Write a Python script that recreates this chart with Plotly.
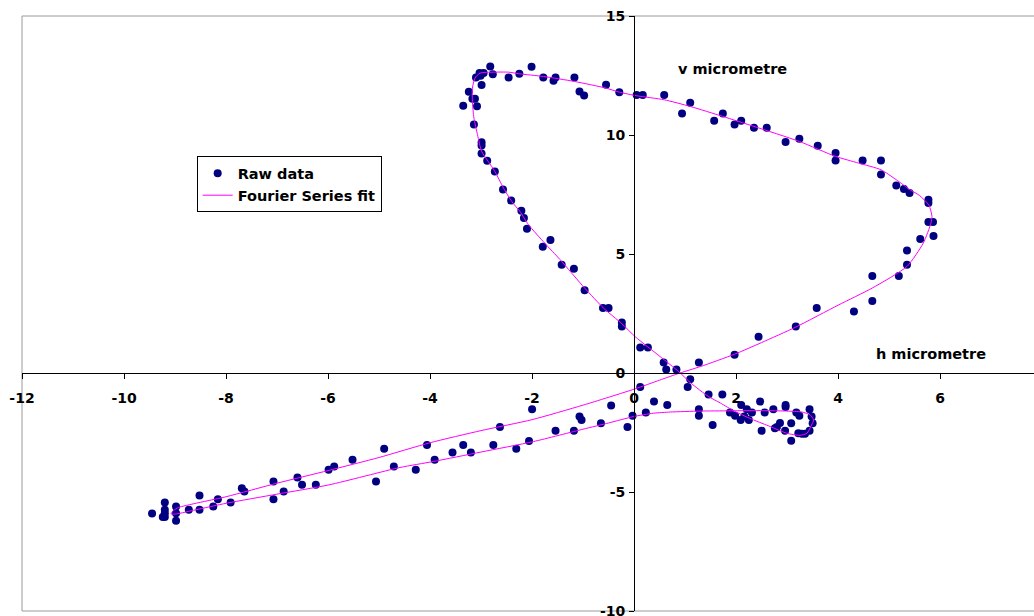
import plotly.graph_objects as go

# ---- data (h, v in micrometre) ----
raw_h = [-2.82, -3.10, -3.03, -2.95, -3.01, -2.77, -2.99, -2.46, -2.25, -2.01, -1.78, -1.58, -1.54, -1.17, -1.07, -0.98, -0.55, -0.29,
         0.05, 0.17, 0.59, 1.10, 0.94, 1.57, 1.74, 1.97, 2.10, 2.35, 2.60, 2.97, 3.24, 3.60, 3.95, 3.95, 4.48, 4.84, 4.84, 5.14, 5.29, 5.40,
         5.77, 5.77, 5.77, 5.86, 5.87, 5.61,
         5.35, 5.35, 5.19, 4.67, 4.67, 4.31, 3.58, 3.17, 2.44, 1.97, 1.27,
         -3.24, -3.17, -3.12, -3.35, -3.08, -3.14, -2.99, -2.99, -2.99, -2.88, -2.73, -2.57, -2.41, -2.21, -2.16, -2.10, -1.79, -1.64,
         -1.42, -1.18, -0.97, -0.61, -0.50, -0.24, -0.24, 0.12, 0.27, 0.58, 0.63, 0.83, 1.10, 1.05, 1.46, 1.73,
         2.10, 2.21, 2.31, 2.47, 2.56, 2.73, 2.97, 2.97, 3.18, 3.24, 3.44, 3.48, 3.50, 3.44, 3.35, 3.29, 3.22, 3.08, 3.08, 2.96, 2.80,
         2.86, 2.76, 2.50, 2.25, 2.09, 2.16, 1.98, 1.88, 1.27, 1.27, 1.54, 0.65, 0.39, 0.23, -0.03, -0.13,
         0.12, -0.45, -0.65, -1.07, -1.03, -1.18, -1.54, -2.00, -2.06, -2.31, -2.63, -2.76, -3.20, -3.35, -3.56, -3.91, -4.06, -4.28,
         -4.71, -4.90, -5.06, -5.52, -5.88, -5.99, -6.24, -6.51, -6.60, -6.87, -7.07, -7.07, -7.64, -7.69, -7.91, -8.16, -8.25, -8.52,
         -8.52, -8.73, -8.98, -8.98, -8.98, -9.20, -9.20, -9.20, -9.24, -9.20, -9.45]
raw_v = [12.88, 12.42, 12.60, 12.60, 12.49, 12.55, 12.10, 12.42, 12.57, 12.87, 12.42, 12.28, 12.42, 12.42, 11.83, 11.66, 12.11, 11.80,
         11.68, 11.68, 11.68, 11.35, 10.90, 10.60, 10.90, 10.44, 10.60, 10.30, 10.30, 9.71, 9.84, 9.55, 9.24, 8.93, 8.93, 8.93, 8.34, 7.88, 7.73, 7.56,
         7.28, 7.14, 6.34, 6.34, 5.76, 5.63,
         5.15, 4.55, 4.08, 4.08, 3.03, 2.58, 2.73, 1.95, 1.52, 0.77, 0.44,
         11.82, 11.52, 11.52, 11.23, 11.21, 10.44, 9.70, 9.56, 9.22, 8.92, 8.47, 7.71, 7.25, 6.82, 6.51, 6.06, 5.30, 5.59,
         4.55, 4.38, 3.48, 2.73, 2.73, 2.12, 1.95, 1.07, 1.07, 0.44, 0.15, 0.15, -0.26, -0.59, -0.90, -0.90,
         -1.34, -1.52, -1.66, -1.20, -1.66, -1.52, -1.34, -1.43, -1.66, -1.80, -1.52, -1.83, -2.11, -2.43, -2.55, -2.55, -2.53, -2.11, -2.85, -2.43, -2.27,
         -2.10, -2.32, -2.43, -1.97, -1.97, -1.83, -1.80, -1.66, -1.52, -1.80, -2.18, -1.34, -1.20, -1.66, -1.80, -2.27,
         -0.59, -1.37, -2.11, -1.83, -1.97, -2.43, -2.43, -1.52, -2.86, -3.18, -2.27, -3.03, -3.34, -3.03, -3.34, -3.65, -3.03, -4.07,
         -3.93, -3.18, -4.56, -3.65, -3.93, -4.07, -4.70, -4.70, -4.39, -4.98, -4.56, -5.30, -4.98, -4.84, -5.44, -5.30, -5.61, -5.15,
         -5.75, -5.75, -5.61, -5.89, -6.21, -5.44, -5.75, -5.89, -6.05, -6.05, -5.90]

fit_h = [-3.02, -3.12, -3.17, -3.17, -3.14, -3.07, -2.99, -2.86, -2.73, -2.56, -2.40, -2.24, -2.07, -1.75, -1.45, -0.97, -0.60, -0.24,
         0.03, 0.51, 0.88, 1.11, 1.46, 1.69, 1.98, 2.34, 2.67, 2.99, 3.25, 3.39, 3.48, 3.52, 3.45, 3.29, 2.99, 2.54, 1.88, 1.29, 0.71,
         0.38, -0.01, -0.50, -1.00, -1.97, -3.00, -3.94, -4.59, -5.98, -7.00, -7.99, -8.60, -8.97, -9.08, -9.03, -8.93, -8.00, -7.00,
         -6.00, -5.00, -4.00, -3.00, -2.00, -1.00, 0.00, 0.50, 0.90, 1.30, 1.97, 2.50, 3.17, 4.00, 4.67, 5.35, 5.67, 5.82, 5.84, 5.78,
         5.60, 5.41, 5.14, 4.84, 4.40, 3.95, 3.24, 2.35, 1.74, 1.10, 0.59, 0.05, -0.29, -0.55, -1.17, -1.78, -2.25, -2.46, -2.76, -3.02]
fit_v = [12.60, 12.39, 11.97, 11.41, 10.71, 10.01, 9.31, 8.89, 8.47, 7.77, 7.21, 6.79, 6.23, 5.45, 4.76, 3.57, 2.73, 2.07,
         1.51, 0.69, 0.05, -0.42, -0.99, -1.26, -1.62, -1.97, -2.25, -2.53, -2.62, -2.53, -2.18, -1.97, -1.76, -1.64, -1.60, -1.58, -1.59, -1.60, -1.64,
         -1.69, -1.83, -2.10, -2.36, -2.88, -3.32, -3.72, -3.97, -4.70, -5.09, -5.47, -5.75, -5.92, -5.92, -5.78, -5.65, -5.20, -4.63,
         -4.10, -3.55, -2.93, -2.42, -1.96, -1.35, -0.68, -0.30, 0.00, 0.27, 0.79, 1.28, 1.93, 2.85, 3.57, 4.48, 5.46, 6.30, 6.58, 7.05,
         7.45, 7.70, 8.12, 8.54, 8.82, 9.10, 9.73, 10.36, 10.78, 11.20, 11.48, 11.65, 11.80, 11.97, 12.25, 12.46, 12.57, 12.64, 12.64, 12.60]

x_ticks = [-12, -10, -8, -6, -4, -2, 0, 2, 4, 6]
x_tick_labels = ["-12", "-10", "-8", "-6", "-4", "-2", "0", "2", "4", "6"]
y_ticks = [-10, -5, 0, 5, 10, 15]
y_tick_labels = ["-10", "-5", "0", "5", "10", "15"]
X_RANGE = [-12.0, 7.84]
Y_RANGE = [-10.0, 15.0]

FONT = "DejaVu Sans"

fig = go.Figure()
fig.add_trace(go.Scatter(x=raw_h, y=raw_v, mode="markers", name="Raw data",
                         marker=dict(color="#000080", size=8, line=dict(width=0))))
fig.add_trace(go.Scatter(x=fit_h, y=fit_v, mode="lines", name="Fourier Series fit",
                         line=dict(color="#FF00FF", width=1, shape="spline", smoothing=0.6)))

axis_common = dict(showgrid=False, zeroline=False, showline=True, linecolor="black", linewidth=1,
                   ticks="outside", ticklen=5, tickwidth=1, tickcolor="black",
                   tickfont=dict(family=FONT, size=14, color="black", weight="bold"),
                   ticklabeloverflow="allow",
                   automargin=False, anchor="free")

fig.update_layout(
    width=1034, height=616,
    margin=dict(l=22, r=0, t=16, b=5, pad=0),
    paper_bgcolor="white", plot_bgcolor="white",
    xaxis=dict(range=X_RANGE, tickvals=x_ticks, ticktext=x_tick_labels, ticklabelstandoff=7,
               position=(0 - Y_RANGE[0]) / (Y_RANGE[1] - Y_RANGE[0]), **axis_common),
    yaxis=dict(range=Y_RANGE, tickvals=y_ticks, ticktext=y_tick_labels, ticklabelstandoff=1,
               position=(0 - X_RANGE[0]) / (X_RANGE[1] - X_RANGE[0]), **axis_common),
    showlegend=True,
    legend=dict(x=0.1726, y=0.764, xanchor="left", yanchor="top",
                bgcolor="white", bordercolor="black", borderwidth=1,
                font=dict(family=FONT, size=14.5, color="black", weight="bold")),
    shapes=[dict(type="rect", xref="paper", yref="paper", x0=0, x1=1.02, y0=0, y1=1,
                 line=dict(color="#9a9a9a", width=1), layer="below")],
    annotations=[
        dict(text="v micrometre", x=1.92, y=12.77, xref="x", yref="y", showarrow=False,
             xanchor="center", yanchor="middle",
             font=dict(family=FONT, size=14.5, color="black", weight="bold")),
        dict(text="h micrometre", x=5.82, y=0.81, xref="x", yref="y", showarrow=False,
             xanchor="center", yanchor="middle",
             font=dict(family=FONT, size=14.5, color="black", weight="bold")),
    ],
)

fig.write_html("out.html", config={"displayModeBar": False},
               post_script="document.body.style.margin='0';")
